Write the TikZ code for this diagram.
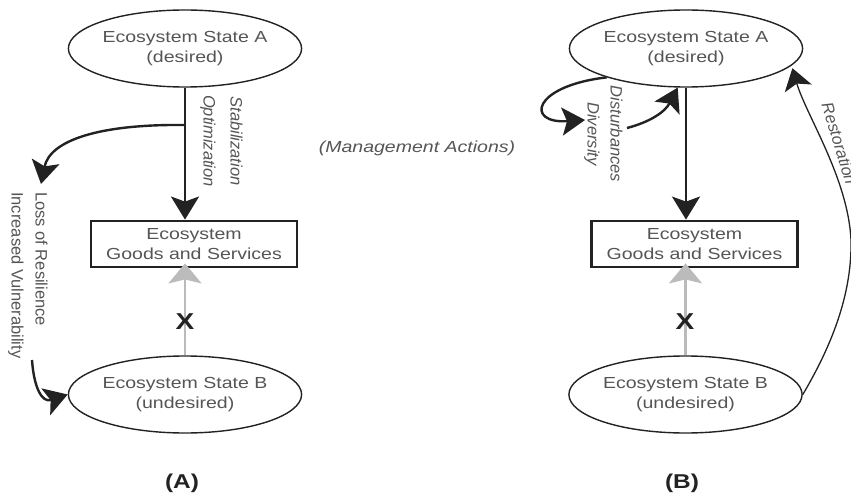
\documentclass[tikz,border=0pt]{standalone}
\usepackage{fontspec}
\setmainfont{Liberation Sans}
\newfontfamily\hfont{Liberation Sans}[FakeStretch=1.22]
\newfontfamily\vfont{Liberation Sans}
\usetikzlibrary{shapes.geometric,arrows.meta}
\definecolor{txt}{HTML}{555555}
\definecolor{lgray}{HTML}{BBBBBB}
\definecolor{dark}{HTML}{222222}
\begin{document}
\begin{tikzpicture}[x=1pt,y=-1pt,
  state/.style={ellipse, draw=dark, line width=1.4pt, minimum width=204pt, minimum height=77pt,
    inner sep=0pt, align=center, text=txt, font=\hfont\fontsize{16}{19.5}\selectfont},
  gsbox/.style={rectangle, draw=dark, line width=2.8pt, minimum width=206pt, minimum height=46pt,
    inner sep=0pt, align=center, text=txt, font=\hfont\fontsize{16}{20}\selectfont},
  tip/.style={-{Stealth[length=23pt,width=28pt,inset=5pt]}},
  mainarrow/.style={tip, draw=dark, line width=2.8pt},
  blocked/.style={draw=lgray, line width=2.6pt, -{Stealth[length=20pt,width=33pt,inset=4pt]}},
  curved/.style={tip, draw=dark, line width=2.4pt},
  thinarrow/.style={draw=dark, line width=1.3pt, -{Stealth[length=21pt,width=28pt,inset=5pt]}},
  vlab/.style={text=txt, inner sep=0pt, font=\vfont\fontsize{16.5}{24}\selectfont},
  cross/.style={text=dark, inner sep=0pt, font=\hfont\bfseries\fontsize{23}{23}\selectfont},
  panel/.style={text=dark, inner sep=0pt, font=\hfont\bfseries\fontsize{20}{20}\selectfont}]
\useasboundingbox (0,0) rectangle (851,500);

% ---------- panel A ----------
\node[state] (A1) at (185,48.5) {Ecosystem State A\\(desired)};
\node[gsbox] (G1) at (194,244) {Ecosystem\\Goods and Services};
\node[state] (B1) at (185,394.5) {Ecosystem State B\\(undesired)};
\draw[mainarrow] (A1.south) -- (A1.south |- G1.north);
\draw[blocked] (B1.north) -- ([yshift=5pt]B1.north |- G1.south);
\node[cross] (X1) at (185,322) {X};
\node[vlab, font=\vfont\itshape\fontsize{16.5}{27}\selectfont, rotate=-90, align=center] (S1) at (221.5,141) {Stabilization\\Optimization};
\coordinate (split) at (185,125);
\coordinate (lossTop) at (41,184);
\draw[curved] (split) .. controls (100,124) and (50,140) .. (lossTop);
\node[vlab, rotate=-90, anchor=west, align=left] (L1) at (28,192) {Loss of Resilience\\Increased Vulnerability};
\coordinate (lossBot) at (32,360);
\draw[curved] (lossBot) .. controls (34,388) and (42,403) .. (B1.west);
\node[panel] (PA) at (182,483) {(A)};

% ---------- middle ----------
\node[text=txt, inner sep=0pt, font=\hfont\itshape\fontsize{16}{19}\selectfont] (MA) at (417,148) {(Management Actions)};

% ---------- panel B ----------
\node[state] (A2) at (686,48.5) {Ecosystem State A\\(desired)};
\node[gsbox] (G2) at (694.5,244) {Ecosystem\\Goods and Services};
\node[state] (B2) at (685.5,394.5) {Ecosystem State B\\(undesired)};
\draw[mainarrow] (A2.south) -- (A2.south |- G2.north);
\draw[blocked] (B2.north) -- ([yshift=5pt]B2.north |- G2.south);
\node[cross] (X2) at (685,322) {X};
\node[vlab, font=\vfont\itshape\fontsize{16.5}{23}\selectfont, rotate=-90, align=center] (D2) at (603.5,134) {Disturbances\\Diversity};
\coordinate (loopIn) at (585,120);
\coordinate (loopOut) at (627,128);
\draw[curved] (A2.200) .. controls (532,86) and (525,124) .. (loopIn);
\draw[curved] (loopOut) .. controls (650,122) and (665,112) .. (A2.258);
\coordinate (restTip) at ([xshift=5pt]A2.-11);
\draw[thinarrow] (B2.east) .. controls (835,340) and (852,290) .. (851,240)
   .. controls (848,178) and (806,115) .. (restTip);
\node[vlab, font=\vfont\itshape\fontsize{16.5}{20}\selectfont, rotate=-73, anchor=west] (R2) at (827,103) {Restoration};
\node[panel] (PB) at (682,483) {(B)};
\end{tikzpicture}
\end{document}
